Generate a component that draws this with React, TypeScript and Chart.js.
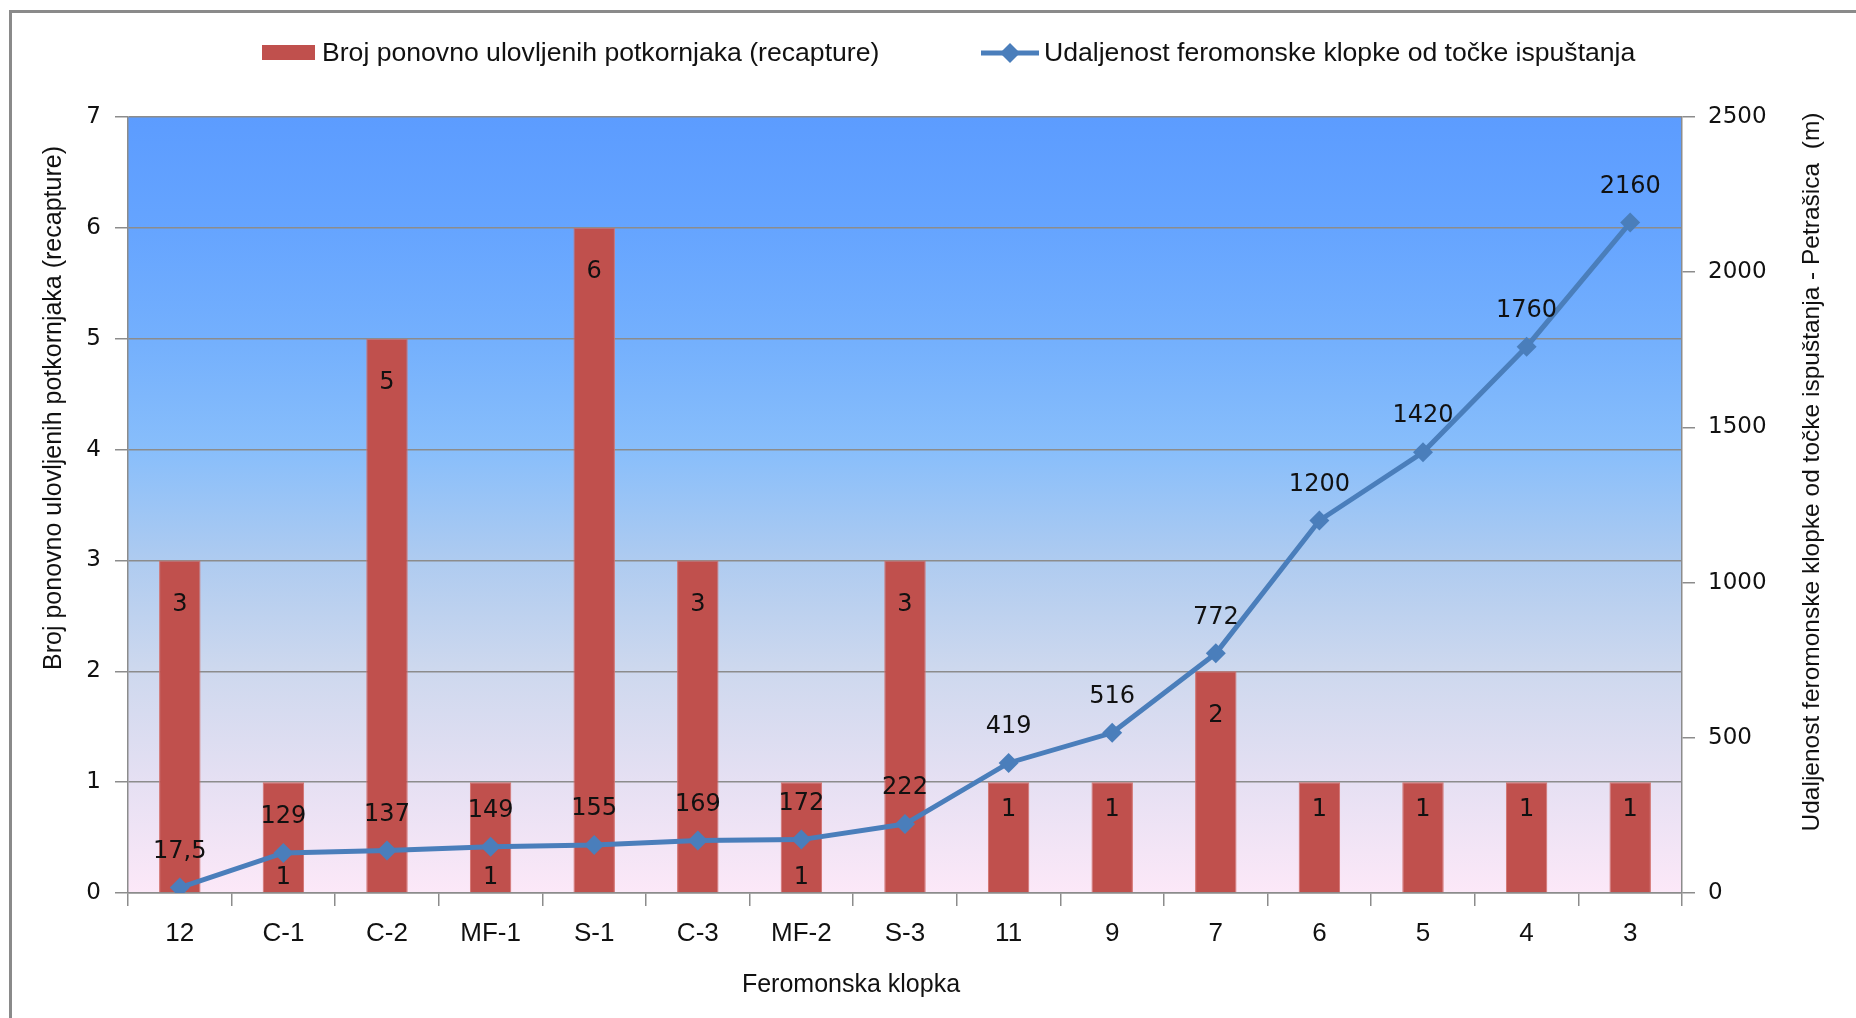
import React, { useEffect, useRef } from 'react';
import { Chart, registerables } from 'chart.js';

Chart.register(...registerables);

const categories = ['12', 'C-1', 'C-2', 'MF-1', 'S-1', 'C-3', 'MF-2', 'S-3', '11', '9', '7', '6', '5', '4', '3'];
const recaptures = [3, 1, 5, 1, 6, 3, 1, 3, 1, 1, 2, 1, 1, 1, 1];
const distances = [17.5, 129, 137, 149, 155, 169, 172, 222, 419, 516, 772, 1200, 1420, 1760, 2160];
const recaptureLabelPlacement = ['end', 'base', 'end', 'base', 'end', 'end', 'base', 'end', 'end', 'end', 'end', 'end', 'end', 'end', 'end'];
const leftAxisMax = 7;
const leftAxisStep = 1;
const rightAxisMax = 2500;
const rightAxisStep = 500;

const barSeriesName = 'Broj ponovno ulovljenih potkornjaka (recapture)';
const lineSeriesName = 'Udaljenost feromonske klopke od točke ispuštanja';
const leftAxisTitle = 'Broj ponovno ulovljenih potkornjaka (recapture)';
const rightAxisTitle = 'Udaljenost feromonske klopke od točke ispuštanja - Petrašica  (m)';
const xAxisTitle = 'Feromonska klopka';

const W = 1856;
const H = 1018;
const BAR_COLOR = '#C0504D';
const LINE_COLOR = '#4A7EBB';
const GRID_COLOR = '#8C8C8C';
const NARROW = "'Liberation Sans Narrow', 'Arial Narrow', sans-serif";
const WIDE = "'DejaVu Sans', Verdana, sans-serif";

function diamond(ctx: CanvasRenderingContext2D, x: number, y: number, r: number) {
  ctx.beginPath();
  ctx.moveTo(x - r, y);
  ctx.lineTo(x, y - r);
  ctx.lineTo(x + r, y);
  ctx.lineTo(x, y + r);
  ctx.closePath();
  ctx.fill();
}

const decorPlugin = {
  id: 'decor',
  beforeDraw(chart: any) {
    const { ctx, chartArea } = chart;
    ctx.save();
    ctx.fillStyle = '#ffffff';
    ctx.fillRect(0, 0, W, H);
    // outer frame (clipped on right and bottom)
    ctx.strokeStyle = '#8A8A8A';
    ctx.lineWidth = 3;
    ctx.beginPath();
    ctx.moveTo(10.5, H + 5);
    ctx.lineTo(10.5, 11.5);
    ctx.lineTo(W + 5, 11.5);
    ctx.stroke();
    // plot area gradient
    const g = ctx.createLinearGradient(0, chartArea.top, 0, chartArea.bottom);
    g.addColorStop(0, '#5C9CFF');
    g.addColorStop(0.14, '#65A4FF');
    g.addColorStop(0.29, '#74B0FD');
    g.addColorStop(0.43, '#88BEFB');
    g.addColorStop(0.57, '#AECBF0');
    g.addColorStop(0.71, '#CDD8EE');
    g.addColorStop(0.86, '#E6E0F3');
    g.addColorStop(1, '#FCE8F8');
    ctx.fillStyle = g;
    ctx.fillRect(chartArea.left, chartArea.top, chartArea.right - chartArea.left, chartArea.bottom - chartArea.top);
    ctx.restore();
  },
  afterDatasetsDraw(chart: any) {
    const { ctx } = chart;
    ctx.save();
    // bar value labels
    const barMeta = chart.getDatasetMeta(1);
    ctx.fillStyle = '#111111';
    ctx.font = `24px ${WIDE}`;
    ctx.textAlign = 'center';
    ctx.textBaseline = 'middle';
    barMeta.data.forEach((el: any, i: number) => {
      const v = recaptures[i];
      let y;
      if (recaptureLabelPlacement[i] === 'base') {
        y = el.base - 14;
      } else {
        y = el.y + (v > 1 ? 44 : 28);
      }
      ctx.fillText(String(v), el.x, y);
    });
    // line value labels
    const lineMeta = chart.getDatasetMeta(0);
    lineMeta.data.forEach((el: any, i: number) => {
      ctx.fillText(String(distances[i]).replace('.', ','), el.x, el.y - 36);
    });

    // legend
    ctx.fillStyle = BAR_COLOR;
    ctx.fillRect(262, 45, 53, 15);
    ctx.fillStyle = '#111';
    ctx.font = `26.6px ${NARROW}`;
    ctx.textAlign = 'left';
    ctx.textBaseline = 'middle';
    ctx.fillText(barSeriesName, 322, 54);
    ctx.strokeStyle = LINE_COLOR;
    ctx.lineWidth = 5;
    ctx.beginPath();
    ctx.moveTo(981, 53);
    ctx.lineTo(1039, 53);
    ctx.stroke();
    ctx.fillStyle = LINE_COLOR;
    diamond(ctx, 1010, 53, 10);
    ctx.fillStyle = '#111';
    ctx.fillText(lineSeriesName, 1044, 54);

    // axis titles
    ctx.textAlign = 'center';
    ctx.font = `25px ${NARROW}`;
    ctx.save();
    ctx.translate(54, 408);
    ctx.rotate(-Math.PI / 2);
    ctx.fillText(leftAxisTitle, 0, 0);
    ctx.restore();
    ctx.save();
    ctx.font = `24.5px ${NARROW}`;
    ctx.translate(1812, 472);
    ctx.rotate(-Math.PI / 2);
    ctx.fillText(rightAxisTitle, 0, 0);
    ctx.restore();
    ctx.fillText(xAxisTitle, 851, 985);
    ctx.restore();
  },
};

export default function App() {
  const ref = useRef<HTMLCanvasElement | null>(null);
  useEffect(() => {
    if (!ref.current) return;
    const chart = new Chart(ref.current, {
      type: 'bar',
      data: {
        labels: categories,
        datasets: [
          {
            type: 'line',
            label: lineSeriesName,
            data: distances,
            yAxisID: 'y1',
            borderColor: LINE_COLOR,
            backgroundColor: LINE_COLOR,
            borderWidth: 5,
            pointStyle: 'rectRot',
            pointRadius: 10,
            pointBackgroundColor: LINE_COLOR,
            pointBorderColor: LINE_COLOR,
            pointBorderWidth: 0,
            tension: 0,
            order: 0,
          } as any,
          {
            type: 'bar',
            label: barSeriesName,
            data: recaptures,
            yAxisID: 'y',
            backgroundColor: BAR_COLOR,
            borderColor: '#D2706D',
            borderWidth: 1,
            barPercentage: 0.4,
            categoryPercentage: 1,
            order: 1,
          },
        ],
      },
      options: {
        responsive: false,
        animation: false,
        events: [],
        layout: { padding: { top: 117, left: 0, right: 0, bottom: 0 } },
        plugins: {
          legend: { display: false },
          tooltip: { enabled: false },
          title: { display: false },
        },
        scales: {
          x: {
            offset: true,
            grid: {
              offset: true,
              drawOnChartArea: false,
              drawTicks: true,
              tickLength: 13,
              color: GRID_COLOR,
              lineWidth: 1.5,
            },
            border: { display: true, color: GRID_COLOR, width: 1.5 },
            ticks: {
              autoSkip: false,
              maxRotation: 0,
              minRotation: 0,
              padding: 12,
              color: '#111',
              font: { family: NARROW, size: 26 },
            },
            afterFit(scale: any) {
              scale.height = H - 893;
            },
          },
          y: {
            position: 'left',
            min: 0,
            max: leftAxisMax,
            ticks: {
              stepSize: leftAxisStep,
              padding: 14,
              color: '#111',
              font: { family: WIDE, size: 23 },
              callback: (v: any) => String(v),
            },
            grid: {
              color: GRID_COLOR,
              lineWidth: 1.5,
              tickLength: 13,
              drawTicks: true,
            },
            border: { display: true, color: GRID_COLOR, width: 1.5 },
            afterFit(scale: any) {
              scale.width = 128;
            },
          },
          y1: {
            position: 'right',
            min: 0,
            max: rightAxisMax,
            ticks: {
              stepSize: rightAxisStep,
              padding: 13,
              color: '#111',
              font: { family: WIDE, size: 23 },
              callback: (v: any) => String(v),
            },
            grid: {
              drawOnChartArea: false,
              color: GRID_COLOR,
              lineWidth: 1.5,
              tickLength: 13,
              drawTicks: true,
            },
            border: { display: true, color: GRID_COLOR, width: 1.5 },
            afterFit(scale: any) {
              scale.width = W - 1682;
            },
          },
        },
      },
      plugins: [decorPlugin],
    });
    return () => chart.destroy();
  }, []);
  return (
    <div style={{ position: 'fixed', left: 0, top: 0, width: W, height: H, background: '#fff' }}>
      <canvas ref={ref} width={W} height={H} style={{ display: 'block', width: W, height: H }} />
    </div>
  );
}
